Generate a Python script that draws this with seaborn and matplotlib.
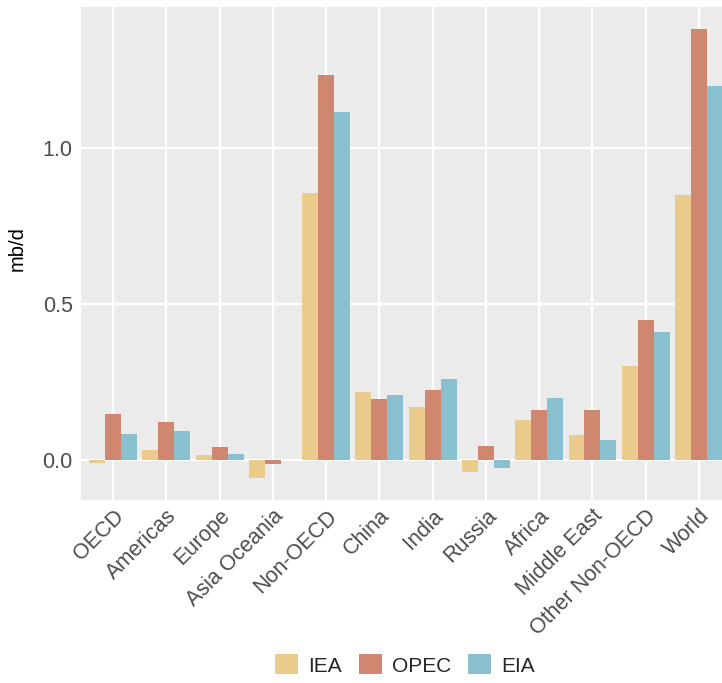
import matplotlib
matplotlib.use("Agg")
import matplotlib.pyplot as plt
import seaborn as sns
import pandas as pd
from matplotlib.patches import Patch

# Data (mb/d)
regions = ["OECD", "Americas", "Europe", "Asia Oceania", "Non-OECD", "China",
           "India", "Russia", "Africa", "Middle East", "Other Non-OECD", "World"]
sources = ["IEA", "OPEC", "EIA"]
iea = [-0.01, 0.032, 0.016, -0.057, 0.855, 0.217, 0.169, -0.038, 0.128, 0.079, 0.299, 0.847]
opec = [0.146, 0.120, 0.040, -0.015, 1.232, 0.196, 0.223, 0.044, 0.159, 0.159, 0.446, 1.378]
eia = [0.081, 0.092, 0.018, 0.0, 1.115, 0.208, 0.259, -0.025, 0.197, 0.063, 0.409, 1.197]
colors = ["#EBCB8B", "#D08770", "#88C0D0"]

df = pd.DataFrame({
    "region": regions * 3,
    "source": ["IEA"] * 12 + ["OPEC"] * 12 + ["EIA"] * 12,
    "value": iea + opec + eia,
})

sns.set_theme(style="darkgrid", rc={
    "axes.facecolor": "#EBEBEB",
    "grid.color": "white",
    "grid.linewidth": 1.6,
})
plt.rcParams["font.family"] = ["Liberation Sans", "DejaVu Sans"]

fig = plt.figure(figsize=(7.22, 6.83), dpi=100)
ax = fig.add_axes([81 / 722, 183 / 683, 650 / 722, 493 / 683])

sns.barplot(data=df, x="region", y="value", hue="source", order=regions,
            hue_order=sources, palette=colors, width=0.9, saturation=1,
            errorbar=None, ax=ax, legend=False, linewidth=0)

for spine in ax.spines.values():
    spine.set_visible(False)
ax.set_axisbelow(True)
ax.grid(True, axis="both", color="white", linewidth=1.6)
ax.set_xlim(-0.6, 11.6)
ax.set_ylim(-0.129, 1.45)
ax.set_yticks([0.0, 0.5, 1.0])
ax.set_yticklabels(["0.0", "0.5", "1.0"])
ax.tick_params(axis="both", length=0, labelsize=15.5, colors="#4D4D4D", pad=6)
ax.tick_params(axis="x", pad=4)
for lab in ax.get_xticklabels():
    lab.set_rotation(45)
    lab.set_ha("right")
    lab.set_va("top")
    lab.set_rotation_mode("anchor")
ax.set_xlabel("")
ax.set_ylabel("mb/d", fontsize=14.5, color="black", labelpad=8)
ax.yaxis.set_label_coords(-0.083, 0.51)

handles = [Patch(facecolor=c, edgecolor="none") for c in colors]
fig.legend(handles, sources, loc="center", bbox_to_anchor=(405 / 722, 18 / 683),
           ncol=3, frameon=False, fontsize=15, handlelength=1.1, handleheight=1.1,
           handletextpad=0.5, columnspacing=0.8)

fig.savefig("out.png", dpi=100)
